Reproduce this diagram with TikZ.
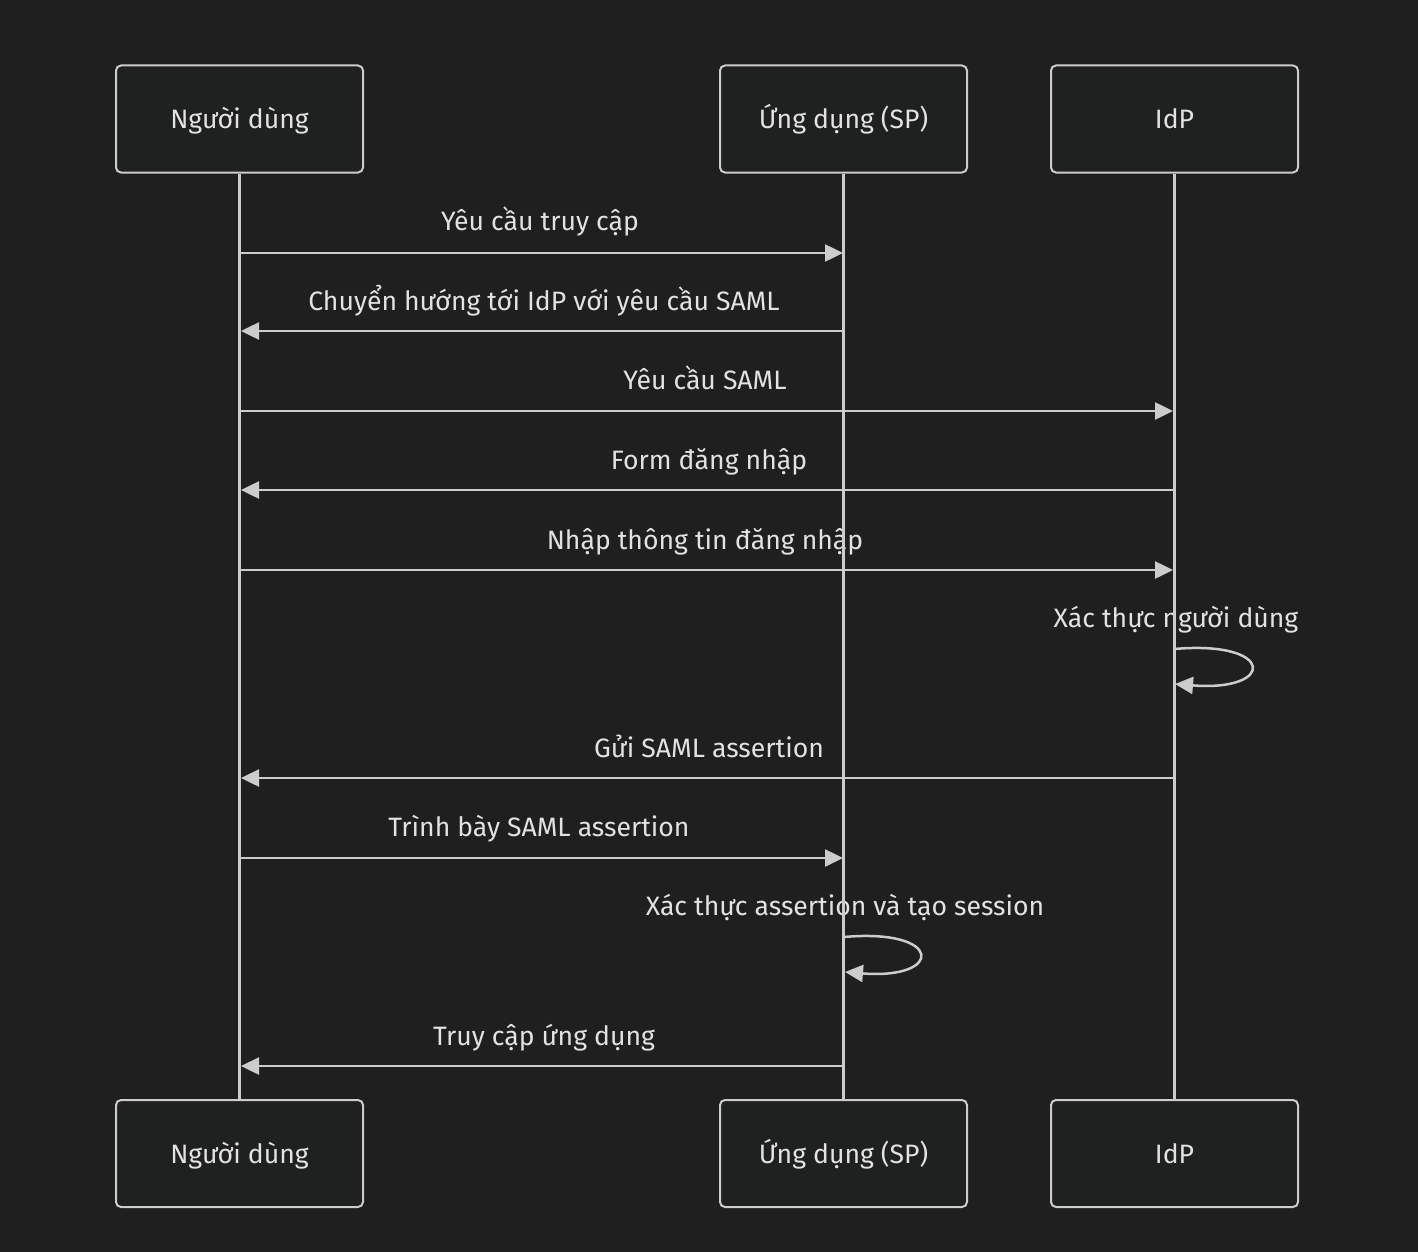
\documentclass[tikz,border=0pt]{standalone}
\usepackage{fontspec}
\setmainfont{Fira Sans}
\usetikzlibrary{arrows.meta}
\definecolor{bgc}{RGB}{31,31,31}
\definecolor{boxfill}{RGB}{31,32,32}
\definecolor{linec}{RGB}{204,204,204}
\definecolor{txtc}{RGB}{226,226,226}
\tikzset{
  actor/.style={draw=linec, line width=1pt, fill=boxfill, rounded corners=2.5pt,
    minimum width=123.5pt, minimum height=53.5pt, inner sep=0pt},
  atext/.style={text=txtc, font=\fontsize{13.3}{15}\selectfont, anchor=base, inner sep=0pt},
  mtext/.style={text=txtc, font=\fontsize{13.3}{15}\selectfont, anchor=base, inner sep=0pt},
  life/.style={draw=linec, line width=1.25pt},
  msg/.style={draw=linec, line width=1.25pt, -{Triangle[length=9pt,width=8.5pt]}},
}
\begin{document}
\begin{tikzpicture}[x=0.5pt,y=-0.5pt]
\useasboundingbox (0,0) rectangle (1418,1252);
\fill[bgc] (0,0) rectangle (1418,1252);
% actors
\node[actor] (ua) at (239.5,119) {};
\node[actor] (sa) at (843.5,119) {};
\node[actor] (ia) at (1174.5,119) {};
\node[actor] (ub) at (239.5,1153.5) {};
\node[actor] (sb) at (843.5,1153.5) {};
\node[actor] (ib) at (1174.5,1153.5) {};
\node[atext] (uat) at (239.5,128.5) {Người dùng};
\node[atext] (sat) at (843.5,128.5) {Ứng dụng (SP)};
\node[atext] (iat) at (1174.5,128.5) {IdP};
\node[atext] (ubt) at (239.5,1163) {Người dùng};
\node[atext] (sbt) at (843.5,1163) {Ứng dụng (SP)};
\node[atext] (ibt) at (1174.5,1163) {IdP};
% message labels
\node[mtext] (t1) at (540,230) {Yêu cầu truy cập};
\node[mtext] (t2) at (544,310) {Chuyển hướng tới IdP với yêu cầu SAML};
\node[mtext] (t3) at (705,389) {Yêu cầu SAML};
\node[mtext] (t4) at (709,469) {Form đăng nhập};
\node[mtext] (t5) at (705,549) {Nhập thông tin đăng nhập};
\node[mtext] (t6) at (1176,627) {Xác thực người dùng};
\node[mtext] (t7) at (709,757) {Gửi SAML assertion};
\node[mtext] (t8) at (539,836) {Trình bày SAML assertion};
\node[mtext] (t9) at (845,915) {Xác thực assertion và tạo session};
\node[mtext] (t10) at (544,1045) {Truy cập ứng dụng};
% lifelines
\draw[life] (ua.south) -- (ub.north);
\draw[life] (sa.south) -- (sb.north);
\draw[life] (ia.south) -- (ib.north);
% message endpoints
\coordinate (u1) at (240,253);   \coordinate (s1) at (843,253);
\coordinate (s2) at (844,331);   \coordinate (u2) at (241,331);
\coordinate (u3) at (240,411);   \coordinate (i3) at (1173,411);
\coordinate (i4) at (1174,490);  \coordinate (u4) at (241,490);
\coordinate (u5) at (240,570);   \coordinate (i5) at (1173,570);
\coordinate (i6a) at (1174,649); \coordinate (i6b) at (1175,684);
\coordinate (i7) at (1174,778);  \coordinate (u7) at (241,778);
\coordinate (u8) at (240,858);   \coordinate (s8) at (843,858);
\coordinate (s9a) at (844,937);  \coordinate (s9b) at (845,972);
\coordinate (s10) at (844,1066); \coordinate (u10) at (241,1066);
\draw[msg] (u1) -- (s1);
\draw[msg] (s2) -- (u2);
\draw[msg] (u3) -- (i3);
\draw[msg] (i4) -- (u4);
\draw[msg] (u5) -- (i5);
\draw[msg] (i6a) .. controls (1276,640) and (1276,692) .. (i6b);
\draw[msg] (i7) -- (u7);
\draw[msg] (u8) -- (s8);
\draw[msg] (s9a) .. controls (944,928) and (944,980) .. (s9b);
\draw[msg] (s10) -- (u10);
\end{tikzpicture}
\end{document}
